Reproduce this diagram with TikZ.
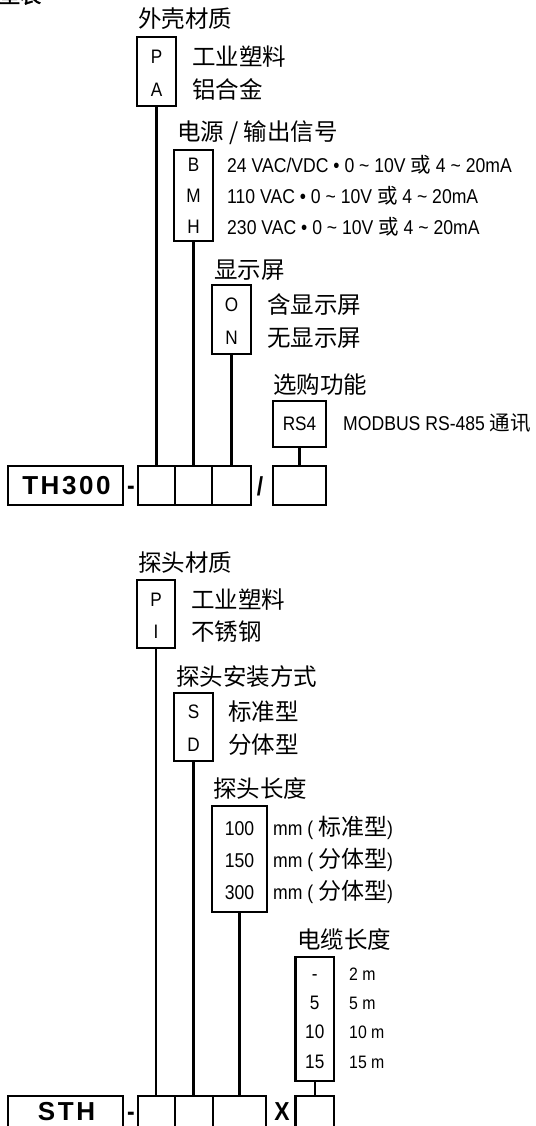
\documentclass[tikz,border=0pt]{standalone}
\usepackage{fontspec}
\setmainfont{Liberation Sans}[FakeStretch=0.88]
\newfontfamily\cjk{Noto Sans CJK SC}
\newfontfamily\cjkb{Noto Sans CJK SC}[FakeBold=2]
\newfontfamily\hb{Liberation Sans}[LetterSpace=10]
\newcommand\fsz[1]{\fontsize{#1}{#1}\selectfont}
\begin{document}
\begin{tikzpicture}[x=1pt,y=-1pt,
  obox/.style={draw,line width=2.3pt,inner sep=0},
  lnk/.style={line width=2.3pt},
  head/.style={anchor=base west,inner sep=0,font={\cjk\fsz{23.5}}},
  opt/.style={anchor=base west,inner sep=0,font={\cjk\fsz{23.5}}},
  code/.style={anchor=base,inner sep=0,font={\fsz{19.5}}},
  desc/.style={anchor=base west,inner sep=0,font={\fsz{20}}},
  small/.style={anchor=base west,inner sep=0,font={\fsz{18}}},
  big/.style={anchor=base,inner sep=0,font={\hb\bfseries\fsz{26}}},
  sep/.style={anchor=base,inner sep=0,font={\bfseries\fsz{26}}},
]
\useasboundingbox (0,0) rectangle (535,1126);
\clip (0,0) rectangle (535,1126);

\node[anchor=base west,inner sep=0,font={\cjkb\fsz{21}}] (title) at (-1,3) {型表};

% ---------- TH300 ----------
\node[head] (h1) at (138,27.7) {外壳材质};
\node[obox,minimum width=39pt,minimum height=69pt] (pa) at (156.5,71.5) {};
\node[code] (cP) at (156.5,63.8) {P};
\node[code] (cA) at (156.5,96.8) {A};
\node[opt] (oP) at (192,65.7) {工业塑料};
\node[opt] (oA) at (192,98.7) {铝合金};

\node[head] (h2) at (177,140.7) {电源 / 输出信号};
\node[obox,minimum width=39pt,minimum height=91pt] (bmh) at (193.5,195.5) {};
\node[code] (cB) at (193.5,171.8) {B};
\node[code] (cM) at (193.5,202.8) {M};
\node[code] (cH) at (193.5,233.8) {H};
\node[desc] (oB) at (227,172.2) {24 VAC/VDC • 0 \textasciitilde{} 10V {\cjk\fsz{20.5}或} 4 \textasciitilde{} 20mA};
\node[desc] (oM) at (227,203.2) {110 VAC • 0 \textasciitilde{} 10V {\cjk\fsz{20.5}或} 4 \textasciitilde{} 20mA};
\node[desc] (oH) at (227,234.2) {230 VAC • 0 \textasciitilde{} 10V {\cjk\fsz{20.5}或} 4 \textasciitilde{} 20mA};

\node[head] (h3) at (214,278.7) {显示屏};
\node[obox,minimum width=39pt,minimum height=69pt] (on) at (231.5,319.5) {};
\node[code] (cO) at (231.5,311.8) {O};
\node[code] (cN) at (231.5,344.8) {N};
\node[opt] (oO) at (267,313.7) {含显示屏};
\node[opt] (oN) at (267,346.7) {无显示屏};

\node[head] (h4) at (273,393.7) {选购功能};
\node[obox,minimum width=53pt,minimum height=46pt] (rs) at (299.5,424) {};
\node[code] (cR) at (299.5,430.8) {RS4};
\node[desc] (oR) at (343,430.2) {MODBUS RS-485 {\cjk\fsz{20.5}通讯}};

\node[obox,minimum width=115pt,minimum height=39pt] (th) at (65.5,485.5) {};
\node[big] (tht) at (66.5,494) {TH300};
\node[sep] (d1) at (131,494) {-};
\node[obox,minimum width=37pt,minimum height=39pt] (b1) at (156.5,485.5) {};
\node[obox,minimum width=37pt,minimum height=39pt] (b2) at (193.5,485.5) {};
\node[obox,minimum width=39pt,minimum height=39pt] (b3) at (231.5,485.5) {};
\node[sep] (sl) at (260,495) {/};
\node[obox,minimum width=53pt,minimum height=39pt] (b4) at (299.5,485.5) {};

\draw[lnk] (pa.south) -- (pa.south |- b1.north);
\draw[lnk] (bmh.south) -- (bmh.south |- b2.north);
\draw[lnk] (on.south) -- (on.south |- b3.north);
\draw[lnk] (rs.south) -- (rs.south |- b4.north);

% ---------- STH ----------
\node[head] (h5) at (138,571.7) {探头材质};
\node[obox,minimum width=38pt,minimum height=68pt] (pi) at (156,614) {};
\node[code] (cP2) at (156,606.8) {P};
\node[code] (cI) at (156,638.8) {I};
\node[opt] (oP2) at (191,608.7) {工业塑料};
\node[opt] (oI) at (191,640.7) {不锈钢};

\node[head] (h6) at (176,685.7) {探头安装方式};
\node[obox,minimum width=39pt,minimum height=68pt] (sd) at (193.5,727) {};
\node[code] (cS) at (193.5,718.8) {S};
\node[code] (cD) at (193.5,751.8) {D};
\node[opt] (oS) at (228,720.7) {标准型};
\node[opt] (oD) at (228,753.7) {分体型};

\node[head] (h7) at (213,797.7) {探头长度};
\node[obox,minimum width=55pt,minimum height=106pt] (len) at (239.5,859) {};
\node[code,font={\fsz{20}}] (l1) at (239.5,835.2) {100};
\node[code,font={\fsz{20}}] (l2) at (239.5,867.2) {150};
\node[code,font={\fsz{20}}] (l3) at (239.5,899.2) {300};
\node[desc] (ol1) at (273,835.2) {mm ( {\cjk\fsz{23}标准型})};
\node[desc] (ol2) at (273,867.2) {mm ( {\cjk\fsz{23}分体型})};
\node[desc] (ol3) at (273,899.2) {mm ( {\cjk\fsz{23}分体型})};

\node[head] (h8) at (297,948.7) {电缆长度};
\node[obox,minimum width=38.5pt,minimum height=124pt] (cab) at (314.75,1019) {};
\node[code] (k1) at (314.75,980.8) {-};
\node[code] (k2) at (314.75,1009.8) {5};
\node[code] (k3) at (314.75,1038.8) {10};
\node[code] (k4) at (314.75,1068.8) {15};
\node[small] (ok1) at (349,980.4) {2 m};
\node[small] (ok2) at (349,1009.4) {5 m};
\node[small] (ok3) at (349,1038.4) {10 m};
\node[small] (ok4) at (349,1068.4) {15 m};

\node[obox,minimum width=115pt,minimum height=39pt] (sth) at (65.5,1115.5) {};
\node[big] (stht) at (66.5,1120) {STH};
\node[sep] (d2) at (131,1120) {-};
\node[obox,minimum width=37pt,minimum height=39pt] (c1) at (156.5,1115.5) {};
\node[obox,minimum width=38pt,minimum height=39pt] (c2) at (194,1115.5) {};
\node[obox,minimum width=53pt,minimum height=39pt] (c3) at (239.5,1115.5) {};
\node[sep] (xx) at (282,1120) {X};
\node[obox,minimum width=38.5pt,minimum height=39pt] (c4) at (314.75,1115.5) {};

\draw[lnk] (pi.south) -- (pi.south |- c1.north);
\draw[lnk] (sd.south) -- (sd.south |- c2.north);
\draw[lnk] (len.south) -- (len.south |- c3.north);
\draw[lnk] (cab.south) -- (cab.south |- c4.north);
\end{tikzpicture}
\end{document}
